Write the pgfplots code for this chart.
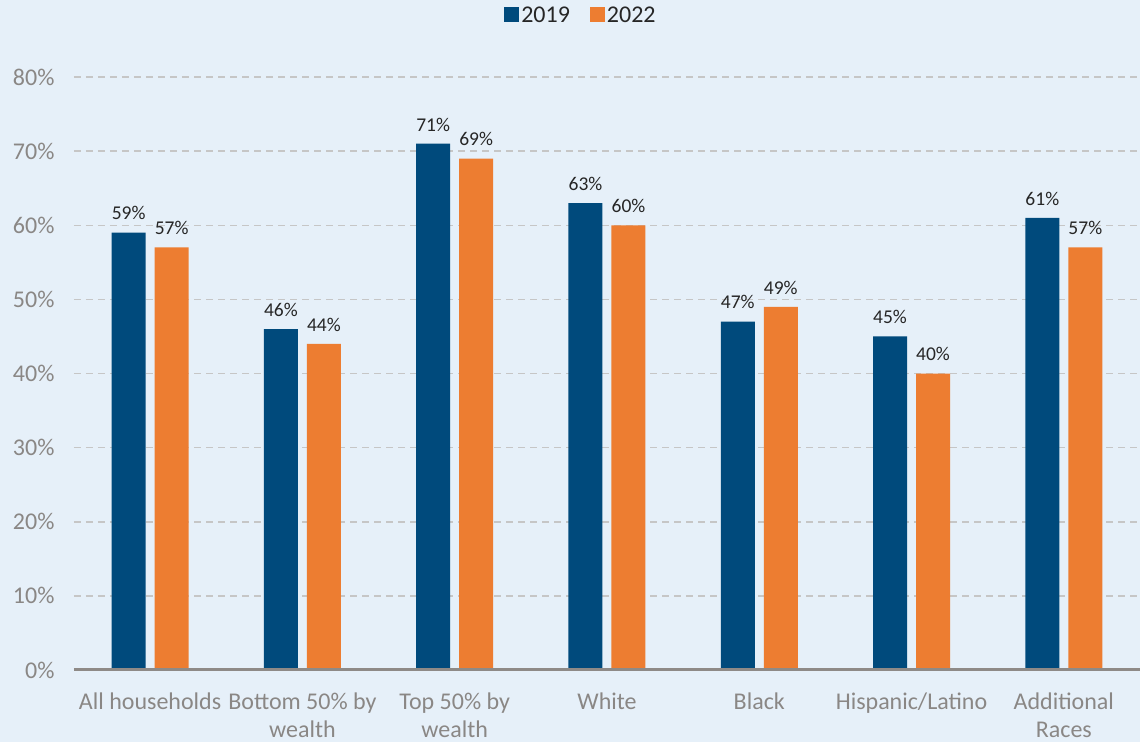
\documentclass[border=0pt]{standalone}
\usepackage{pgfplots}
\pgfplotsset{compat=1.18}
\usepackage{fontspec}
\setmainfont{Carlito}
\definecolor{bg}{HTML}{E6F0F9}
\definecolor{navy}{HTML}{004A7C}
\definecolor{orng}{HTML}{ED7D31}
\definecolor{tickgray}{HTML}{8A8785}
\definecolor{gridgray}{HTML}{C6C6C6}
\definecolor{axisgray}{HTML}{8E8A87}
\definecolor{lbl}{HTML}{262626}
\begin{document}
\begin{tikzpicture}[x=1pt,y=1pt]
\fill[bg] (-74,-72) rectangle (1066,670);
\begin{axis}[
  at={(0pt,0pt)}, anchor=south west,
  scale only axis, width=1066pt, height=593pt,
  xmin=-0.5, xmax=6.5, ymin=0, ymax=80,
  /pgf/number format/assume math mode=true,
  ybar, bar width=34pt,
  axis line style={draw=none},
  major tick length=0pt, tick style={draw=none},
  ytick={0,10,...,80},
  yticklabel={\pgfmathprintnumber{\tick}\%},
  yticklabel style={text=tickgray, font=\fontsize{24}{28}\selectfont, xshift=-16pt},
  ymajorgrids,
  grid style={gridgray, dash pattern=on 7pt off 5pt, line width=1.5pt},
  xtick={0,...,6},
  xticklabels={All households, Bottom 50\% by\\wealth, Top 50\% by\\wealth, White, Black, Hispanic/Latino, Additional\\Races},
  xticklabel style={text=tickgray, align=center, font=\fontsize{24}{28.5}\selectfont, yshift=-19pt},
  nodes near coords={\pgfmathprintnumber{\pgfplotspointmeta}\%},
  nodes near coords style={text=lbl, font=\fontsize{19.5}{22}\selectfont, anchor=south, yshift=9pt},
  legend columns=2,
  legend style={at={(axis description cs:0.4756,1.1046)}, anchor=center, draw=none, fill=none,
    font=\fontsize{24}{28}\selectfont, text=lbl,
    /tikz/every even column/.append style={column sep=18pt}},
  legend image code/.code={\fill[#1] (0pt,-7.5pt) rectangle (15pt,7.5pt);},
]
\addplot[fill=navy, draw=none, bar shift=-21.5pt] coordinates {(0,59) (1,46) (2,71) (3,63) (4,47) (5,45) (6,61)};
\addplot[fill=orng, draw=none, bar shift=21.5pt] coordinates {(0,57) (1,44) (2,69) (3,60) (4,49) (5,40) (6,57)};
\legend{2019,2022}
\draw[axisgray, line width=4pt] (rel axis cs:0,0) -- (rel axis cs:1,0);
\end{axis}
\pgfresetboundingbox
\useasboundingbox (-74,-72) rectangle (1066,670);
\end{tikzpicture}
\end{document}
